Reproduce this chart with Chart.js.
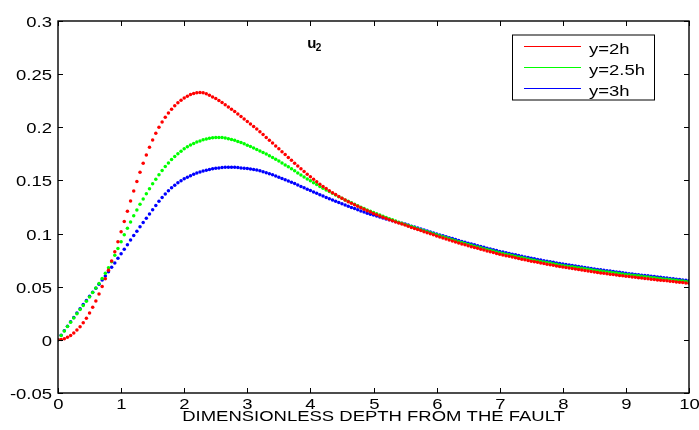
<!DOCTYPE html>
<html>
<head>
<meta charset="utf-8">
<script src="https://cdn.jsdelivr.net/npm/chart.js@4"></script>
<style>
  html, body { margin: 0; padding: 0; background: #fff; }
  canvas { display: block; }
</style>
</head>
<body>
<canvas id="chart" width="699" height="430"></canvas>
<script>
// dimensionless depth from the fault, one sample every 0.05
let depth = Array.from({ length: 201 }, (_, i) => Math.round(i * 5) / 100);

// u2, 10 samples per row (0.5 per row)
let u2h = [
  0.0000, 0.0003, 0.0011, 0.0024, 0.0042, 0.0065, 0.0092, 0.0124, 0.0161, 0.0204,
  0.0252, 0.0306, 0.0366, 0.0431, 0.0501, 0.0576, 0.0656, 0.0741, 0.0830, 0.0922,
  0.1016, 0.1113, 0.1210, 0.1306, 0.1400, 0.1491, 0.1578, 0.1661, 0.1740, 0.1813,
  0.1881, 0.1943, 0.2000, 0.2050, 0.2095, 0.2135, 0.2170, 0.2202, 0.2230, 0.2254,
  0.2275, 0.2293, 0.2308, 0.2319, 0.2326, 0.2328, 0.2324, 0.2315, 0.2302, 0.2286,
  0.2270, 0.2252, 0.2233, 0.2213, 0.2192, 0.2170, 0.2148, 0.2125, 0.2102, 0.2079,
  0.2055, 0.2031, 0.2007, 0.1983, 0.1958, 0.1932, 0.1905, 0.1878, 0.1851, 0.1824,
  0.1797, 0.1770, 0.1743, 0.1716, 0.1689, 0.1662, 0.1636, 0.1610, 0.1584, 0.1559,
  0.1534, 0.1510, 0.1487, 0.1465, 0.1444, 0.1424, 0.1404, 0.1385, 0.1367, 0.1349,
  0.1332, 0.1316, 0.1300, 0.1285, 0.1270, 0.1256, 0.1242, 0.1228, 0.1215, 0.1202,
  0.1189, 0.1177, 0.1165, 0.1153, 0.1142, 0.1131, 0.1120, 0.1110, 0.1100, 0.1090,
  0.1080, 0.1069, 0.1058, 0.1048, 0.1038, 0.1028, 0.1018, 0.1008, 0.0998, 0.0988,
  0.0978, 0.0968, 0.0959, 0.0949, 0.0940, 0.0931, 0.0921, 0.0912, 0.0903, 0.0894,
  0.0885, 0.0877, 0.0869, 0.0861, 0.0853, 0.0845, 0.0837, 0.0829, 0.0821, 0.0813,
  0.0806, 0.0799, 0.0792, 0.0786, 0.0779, 0.0773, 0.0766, 0.0759, 0.0753, 0.0746,
  0.0740, 0.0734, 0.0729, 0.0723, 0.0718, 0.0712, 0.0707, 0.0701, 0.0696, 0.0690,
  0.0685, 0.0680, 0.0676, 0.0671, 0.0666, 0.0661, 0.0657, 0.0652, 0.0647, 0.0643,
  0.0638, 0.0634, 0.0630, 0.0626, 0.0622, 0.0618, 0.0614, 0.0610, 0.0606, 0.0602,
  0.0598, 0.0595, 0.0591, 0.0588, 0.0584, 0.0581, 0.0578, 0.0574, 0.0571, 0.0567,
  0.0564, 0.0561, 0.0558, 0.0555, 0.0552, 0.0549, 0.0545, 0.0542, 0.0539, 0.0536,
  0.0533
];

let u25h = [
  0.0000, 0.0042, 0.0084, 0.0125, 0.0166, 0.0206, 0.0246, 0.0285, 0.0324, 0.0363,
  0.0403, 0.0445, 0.0487, 0.0531, 0.0577, 0.0626, 0.0679, 0.0735, 0.0795, 0.0859,
  0.0924, 0.0988, 0.1050, 0.1110, 0.1167, 0.1222, 0.1275, 0.1326, 0.1375, 0.1422,
  0.1468, 0.1512, 0.1554, 0.1593, 0.1630, 0.1664, 0.1696, 0.1725, 0.1751, 0.1775,
  0.1797, 0.1816, 0.1833, 0.1848, 0.1861, 0.1872, 0.1882, 0.1890, 0.1896, 0.1901,
  0.1904, 0.1905, 0.1903, 0.1899, 0.1893, 0.1886, 0.1877, 0.1867, 0.1856, 0.1844,
  0.1832, 0.1819, 0.1806, 0.1792, 0.1778, 0.1763, 0.1748, 0.1732, 0.1716, 0.1699,
  0.1682, 0.1664, 0.1646, 0.1628, 0.1609, 0.1590, 0.1571, 0.1552, 0.1533, 0.1514,
  0.1496, 0.1478, 0.1461, 0.1444, 0.1427, 0.1411, 0.1395, 0.1379, 0.1363, 0.1347,
  0.1332, 0.1317, 0.1303, 0.1289, 0.1275, 0.1261, 0.1248, 0.1235, 0.1222, 0.1210,
  0.1198, 0.1186, 0.1174, 0.1163, 0.1151, 0.1140, 0.1129, 0.1118, 0.1107, 0.1096,
  0.1085, 0.1075, 0.1066, 0.1056, 0.1046, 0.1037, 0.1027, 0.1017, 0.1007, 0.0998,
  0.0988, 0.0979, 0.0970, 0.0961, 0.0952, 0.0943, 0.0933, 0.0924, 0.0915, 0.0906,
  0.0897, 0.0889, 0.0881, 0.0874, 0.0866, 0.0858, 0.0850, 0.0842, 0.0835, 0.0827,
  0.0819, 0.0813, 0.0806, 0.0800, 0.0793, 0.0787, 0.0780, 0.0774, 0.0767, 0.0761,
  0.0754, 0.0749, 0.0743, 0.0738, 0.0732, 0.0727, 0.0722, 0.0716, 0.0711, 0.0705,
  0.0700, 0.0696, 0.0691, 0.0687, 0.0682, 0.0678, 0.0673, 0.0669, 0.0664, 0.0660,
  0.0655, 0.0651, 0.0647, 0.0643, 0.0639, 0.0636, 0.0632, 0.0628, 0.0624, 0.0620,
  0.0616, 0.0612, 0.0609, 0.0605, 0.0602, 0.0598, 0.0594, 0.0591, 0.0587, 0.0584,
  0.0580, 0.0577, 0.0573, 0.0570, 0.0567, 0.0563, 0.0560, 0.0556, 0.0553, 0.0549,
  0.0546
];

let u3h = [
  0.0000, 0.0043, 0.0086, 0.0128, 0.0170, 0.0211, 0.0252, 0.0292, 0.0332, 0.0371,
  0.0410, 0.0448, 0.0486, 0.0524, 0.0562, 0.0601, 0.0641, 0.0682, 0.0724, 0.0767,
  0.0810, 0.0853, 0.0896, 0.0939, 0.0981, 0.1023, 0.1064, 0.1105, 0.1145, 0.1185,
  0.1225, 0.1265, 0.1303, 0.1340, 0.1373, 0.1403, 0.1430, 0.1455, 0.1477, 0.1497,
  0.1515, 0.1531, 0.1545, 0.1558, 0.1569, 0.1579, 0.1588, 0.1596, 0.1603, 0.1609,
  0.1614, 0.1618, 0.1621, 0.1623, 0.1624, 0.1624, 0.1623, 0.1621, 0.1618, 0.1615,
  0.1612, 0.1608, 0.1603, 0.1597, 0.1590, 0.1582, 0.1573, 0.1563, 0.1553, 0.1542,
  0.1531, 0.1519, 0.1507, 0.1495, 0.1483, 0.1470, 0.1457, 0.1444, 0.1431, 0.1418,
  0.1405, 0.1392, 0.1379, 0.1366, 0.1353, 0.1340, 0.1328, 0.1316, 0.1304, 0.1292,
  0.1280, 0.1268, 0.1257, 0.1246, 0.1235, 0.1224, 0.1213, 0.1202, 0.1192, 0.1182,
  0.1174, 0.1165, 0.1156, 0.1147, 0.1138, 0.1130, 0.1121, 0.1113, 0.1105, 0.1097,
  0.1089, 0.1080, 0.1070, 0.1061, 0.1052, 0.1043, 0.1033, 0.1024, 0.1015, 0.1005,
  0.0996, 0.0987, 0.0979, 0.0970, 0.0961, 0.0953, 0.0944, 0.0935, 0.0926, 0.0918,
  0.0909, 0.0901, 0.0894, 0.0886, 0.0878, 0.0871, 0.0863, 0.0855, 0.0848, 0.0840,
  0.0832, 0.0826, 0.0819, 0.0813, 0.0806, 0.0800, 0.0793, 0.0787, 0.0780, 0.0774,
  0.0767, 0.0762, 0.0756, 0.0751, 0.0745, 0.0740, 0.0735, 0.0729, 0.0724, 0.0718,
  0.0713, 0.0708, 0.0704, 0.0699, 0.0695, 0.0690, 0.0685, 0.0681, 0.0676, 0.0672,
  0.0667, 0.0663, 0.0659, 0.0655, 0.0651, 0.0647, 0.0643, 0.0639, 0.0635, 0.0631,
  0.0627, 0.0623, 0.0620, 0.0616, 0.0613, 0.0609, 0.0605, 0.0602, 0.0598, 0.0595,
  0.0591, 0.0588, 0.0584, 0.0581, 0.0577, 0.0574, 0.0571, 0.0567, 0.0564, 0.0560,
  0.0557
];

let seriesNames = ["y=2h", "y=2.5h", "y=3h"];
let seriesColors = ["#ff0000", "#00ff00", "#0000ff"];
let xTicks = [0, 1, 2, 3, 4, 5, 6, 7, 8, 9, 10];
let yTicks = [-0.05, 0, 0.05, 0.1, 0.15, 0.2, 0.25, 0.3];
let xTitle = "DIMENSIONLESS DEPTH FROM THE FAULT";

// the reference text is drawn wide, so stretch it horizontally
let SX = 1.32;
let FONT = '"Liberation Sans", Arial, Helvetica, sans-serif';

function wideText(ctx, text, x, y, align) {
  ctx.save();
  ctx.translate(x, y);
  ctx.scale(SX, 1);
  ctx.textAlign = align;
  ctx.textBaseline = "alphabetic";
  ctx.fillText(text, 0, 0);
  ctx.restore();
}

// matlab style box: inward ticks on all four sides, labels, title, legend
let matlabAxes = {
  id: "matlabAxes",
  afterDatasetsDraw(chart) {
    let ctx = chart.ctx;
    let a = chart.chartArea;
    let xs = chart.scales.x;
    let ys = chart.scales.y;

    ctx.save();
    ctx.strokeStyle = "#000";
    ctx.fillStyle = "#000";
    ctx.lineWidth = 1.4;
    ctx.strokeRect(a.left, a.top, a.right - a.left, a.bottom - a.top);

    ctx.lineWidth = 1;
    ctx.font = "14px " + FONT;
    xTicks.forEach((v) => {
      let px = Math.round(xs.getPixelForValue(v)) + 0.5;
      ctx.beginPath();
      ctx.moveTo(px, a.bottom);
      ctx.lineTo(px, a.bottom - 5);
      ctx.moveTo(px, a.top);
      ctx.lineTo(px, a.top + 5);
      ctx.stroke();
      wideText(ctx, String(v), px, a.bottom + 15.5, "center");
    });
    yTicks.forEach((v) => {
      let py = Math.round(ys.getPixelForValue(v)) + 0.5;
      ctx.beginPath();
      ctx.moveTo(a.left, py);
      ctx.lineTo(a.left + 5, py);
      ctx.moveTo(a.right, py);
      ctx.lineTo(a.right - 5, py);
      ctx.stroke();
      wideText(ctx, String(+v.toFixed(2)), a.left - 6, py + 5, "right");
    });

    wideText(ctx, xTitle, (a.left + a.right) / 2, a.bottom + 28, "center");

    // title u2 placed in data space
    let tx = xs.getPixelForValue(3.95);
    let ty = ys.getPixelForValue(0.275);
    ctx.textAlign = "left";
    ctx.textBaseline = "alphabetic";
    ctx.font = "bold 15px " + FONT;
    ctx.fillText("u", tx, ty);
    ctx.font = "bold 10px " + FONT;
    ctx.fillText("2", tx + 8.5, ty + 3);

    // legend box
    let lx = a.right - 177;
    let ly = a.top + 13.5;
    ctx.fillStyle = "#fff";
    ctx.fillRect(lx, ly, 143, 66);
    ctx.strokeStyle = "#000";
    ctx.lineWidth = 1;
    ctx.strokeRect(lx + 0.5, ly + 0.5, 142, 65);
    ctx.font = "14px " + FONT;
    seriesNames.forEach((name, i) => {
      let rowY = Math.round(ly + 11.5 + i * 20.8) + 0.5;
      ctx.strokeStyle = seriesColors[i];
      ctx.beginPath();
      ctx.moveTo(lx + 12, rowY);
      ctx.lineTo(lx + 69, rowY);
      ctx.stroke();
      ctx.fillStyle = "#000";
      wideText(ctx, name, lx + 77, rowY + 7.5, "left");
    });
    ctx.restore();
  },
};

let datasets = [u2h, u25h, u3h].map((vals, i) => ({
  label: seriesNames[i],
  data: depth.map((d, j) => ({ x: d, y: vals[j] })),
  backgroundColor: seriesColors[i],
  borderColor: seriesColors[i],
  pointRadius: 1.75,
  pointBorderWidth: 0,
  pointHoverRadius: 1.75,
  showLine: false,
}));

new Chart(document.getElementById("chart"), {
  type: "scatter",
  data: { datasets: datasets },
  options: {
    responsive: false,
    animation: false,
    events: [],
    layout: { padding: { left: 58, right: 10, top: 21, bottom: 37 } },
    plugins: {
      legend: { display: false },
      tooltip: { enabled: false },
      title: { display: false },
    },
    scales: {
      x: { type: "linear", min: 0, max: 10, display: false },
      y: { type: "linear", min: -0.05, max: 0.3, display: false },
    },
  },
  plugins: [matlabAxes],
});
</script>
</body>
</html>
